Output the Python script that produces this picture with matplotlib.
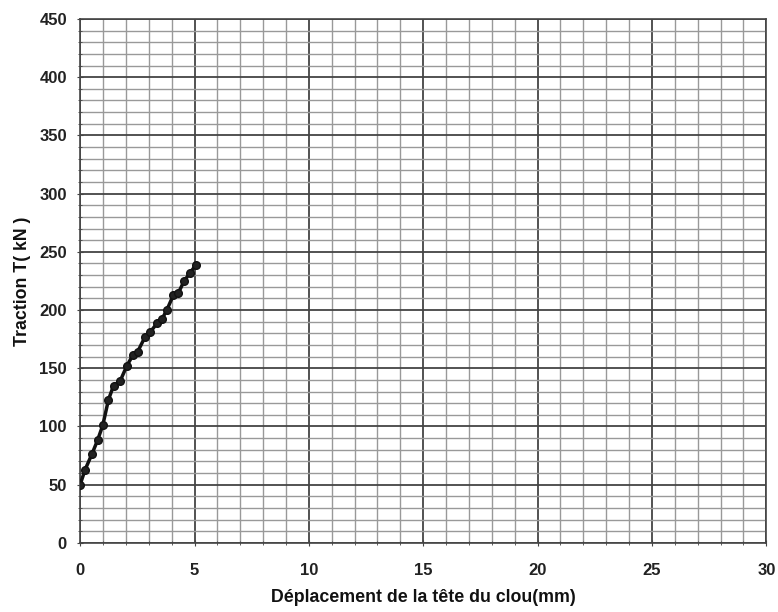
import matplotlib.pyplot as plt
from matplotlib.ticker import MultipleLocator

# deplacement (mm) et traction (kN)
deplacement = [0.0, 0.22, 0.51, 0.76, 0.99, 1.24, 1.46, 1.75, 2.04, 2.30, 2.51,
               2.84, 3.06, 3.38, 3.57, 3.79, 4.08, 4.30, 4.55, 4.81, 5.07]
traction = [50, 63, 76, 88, 101, 123, 135, 139, 152, 161, 164,
            177, 181, 189, 192, 200, 213, 215, 225, 232, 239]

plt.rcParams['font.family'] = ['Liberation Sans', 'DejaVu Sans']

fig = plt.figure(figsize=(7.78, 6.12), dpi=100)
ax = fig.add_axes([0.103, 0.113, 0.882, 0.856])

ax.plot(deplacement, traction, color='#111111', linewidth=2.5,
        marker='o', markersize=5.5, markerfacecolor='#222222',
        markeredgecolor='#111111', zorder=5)

ax.set_xlim(0, 30)
ax.set_ylim(0, 450)
ax.xaxis.set_major_locator(MultipleLocator(5))
ax.xaxis.set_minor_locator(MultipleLocator(1))
ax.yaxis.set_major_locator(MultipleLocator(50))
ax.yaxis.set_minor_locator(MultipleLocator(10))

ax.grid(which='major', color='#444444', linewidth=1.3)
ax.grid(which='minor', color='#999999', linewidth=1.0)
ax.set_axisbelow(True)

for s in ax.spines.values():
    s.set_color('#444444')
    s.set_linewidth(1.2)

ax.tick_params(axis='x', which='major', pad=12)
ax.tick_params(axis='y', which='major', pad=7)
ax.tick_params(which='major', length=5, color='#444444', labelsize=12,
               labelcolor='#222222', direction='inout')
ax.tick_params(which='minor', length=3, color='#444444', direction='inout')
for lab in ax.get_xticklabels() + ax.get_yticklabels():
    lab.set_fontweight('bold')

ax.set_xlabel('Déplacement de la tête du clou(mm)', fontsize=12.8,
              fontweight='bold', color='#111111', labelpad=8)
ax.set_ylabel('Traction T( kN )', fontsize=12.8, fontweight='bold',
              color='#111111', labelpad=6)

fig.savefig('out.png', dpi=100)
